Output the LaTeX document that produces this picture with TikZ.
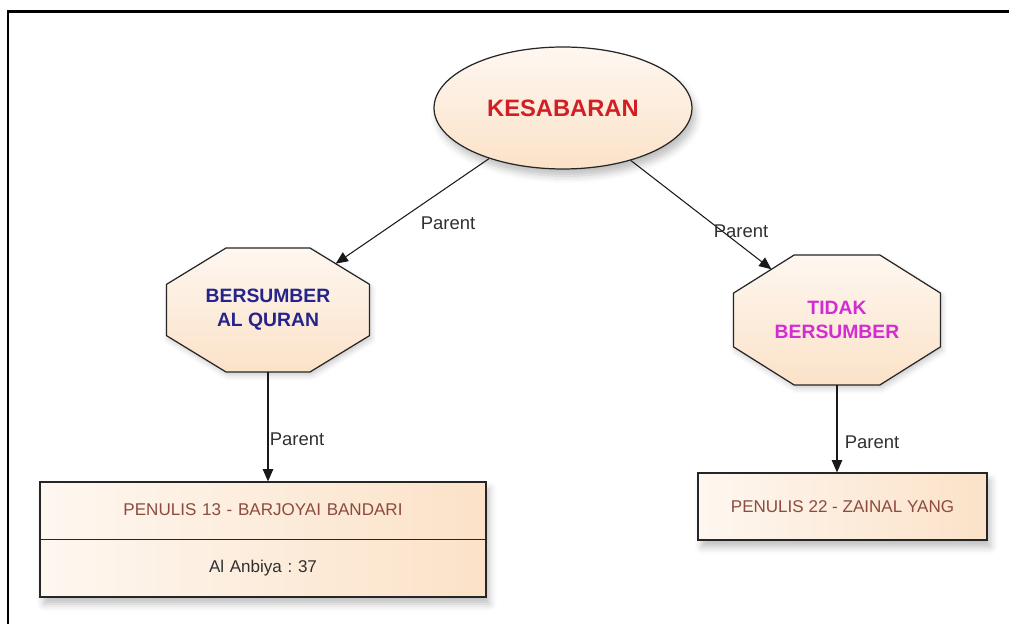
\documentclass[tikz,border=0pt]{standalone}
\usepackage{fontspec}
\setmainfont{Liberation Sans}
\usetikzlibrary{shapes.geometric, shapes.multipart, arrows.meta, shadows.blur}
\definecolor{peachlight}{HTML}{FEF7F0}
\definecolor{peachdark}{HTML}{FBE2C8}
\definecolor{titlered}{HTML}{D21F26}
\definecolor{quranblue}{HTML}{24248A}
\definecolor{tidakpink}{HTML}{D22CD2}
\definecolor{penulisbrown}{HTML}{8C4B3E}
\definecolor{labelgray}{HTML}{303030}
\frenchspacing

\tikzset{
  softshadow/.style={blur shadow={shadow xshift=2pt, shadow yshift=-4pt, shadow opacity=25, shadow blur radius=4pt}},
  topic/.style={ellipse, draw=black!85, line width=0.7pt, top color=peachlight, bottom color=peachdark,
    minimum width=5.16cm, minimum height=2.44cm, font=\bfseries\fontsize{13.5}{15}\selectfont, text=titlered, softshadow},
  sumber/.style={regular polygon, regular polygon sides=8, minimum size=2cm, inner sep=0pt, outer sep=0pt,
    transform shape, draw=black!85, line width=0.7pt, top color=peachlight, bottom color=peachdark,
    blur shadow={shadow xshift=1pt, shadow yshift=-2pt, shadow opacity=20, shadow blur radius=3pt}},
  sumbertext/.style={align=center, font=\bfseries\fontsize{11}{13.5}\selectfont},
  penulis/.style={rectangle, draw=black!85, line width=0.7pt, left color=peachlight, right color=peachdark,
    font=\fontsize{9.7}{11}\selectfont, text=penulisbrown, softshadow},
  parent/.style={-{Triangle[length=7pt,width=6pt]}, line width=0.6pt, black!90},
  lbl/.style={font=\fontsize{10.5}{12}\selectfont, text=labelgray}
}

\begin{document}
\begin{tikzpicture}[x=0.02cm, y=-0.02cm]
\useasboundingbox (0,0) rectangle (1009,624);
\clip (0,0) rectangle (1009,624);
\draw[line width=1.7pt] (8,700) |- (1100,12);

% topic and sources
\node[topic] (kes) at (563,108) {KESABARAN};
\node[sumber, xscale=2.197, yscale=1.342] (bq) at (268,310) {};
\node[sumbertext, text=quranblue] (bq-text) at (268,310) {BERSUMBER\\AL QURAN};
\node[sumber, xscale=2.24, yscale=1.407] (tb) at (837,320) {};
\node[sumbertext, text=tidakpink] (tb-text) at (837,320) {TIDAK\\BERSUMBER};

% writers
\node[penulis, rectangle split, rectangle split parts=2, text width=8.6cm, align=center,
  inner xsep=0.16cm, inner ysep=11.5pt, text height=7pt, text depth=2pt] (pen1) at (263,539.5)
  {PENULIS 13 - BARJOYAI BANDARI \nodepart{two} \textcolor{labelgray}{Al Anbiya : 37}};
\node[penulis, minimum width=5.78cm, minimum height=1.34cm] (pen2) at (842.5,506.5) {PENULIS 22 - ZAINAL YANG};

% connectors
\draw[parent] (kes) -- (bq);
\draw[parent] (kes) -- (tb);
\draw[parent] (bq.south) -- (bq.south |- pen1.north);
\draw[parent] (tb.south) -- (tb.south |- pen2.north);

\node[lbl] (l1) at (448,223) {Parent};
\node[lbl] (l2) at (741,231) {Parent};
\node[lbl] (l3) at (297,439) {Parent};
\node[lbl] (l4) at (872,442) {Parent};
\end{tikzpicture}
\end{document}
